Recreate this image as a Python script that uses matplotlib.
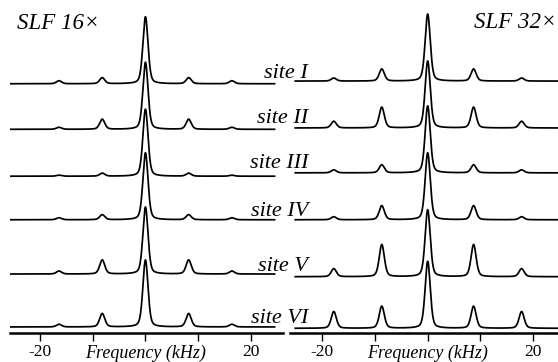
import numpy as np
import matplotlib
matplotlib.use("Agg")
import matplotlib.pyplot as plt

plt.rcParams["font.family"] = ["Liberation Serif", "DejaVu Serif"]

# ==============================================================================
# Data
# ==============================================================================
sites = ["site I", "site II", "site III", "site IV", "site V", "site VI"]

# trace baselines, in units of the centre-peak height (top trace first)
base_16 = [3.72, 3.04, 2.34, 1.69, 0.88, 0.09]
base_32 = [3.76, 3.06, 2.39, 1.69, 0.84, 0.07]

# sideband positions (kHz)
sb_16 = [8.2, 16.4]
sb_32 = [8.7, 17.8]

# sideband heights relative to the centre peak (first, second order)
h1_16 = [0.09, 0.15, 0.045, 0.075, 0.21, 0.20]
h2_16 = [0.045, 0.03, 0.015, 0.03, 0.045, 0.04]
h1_32 = [0.18, 0.31, 0.12, 0.21, 0.48, 0.33]
h2_32 = [0.045, 0.10, 0.045, 0.045, 0.12, 0.25]

# frequency span of the traces (kHz)
span_16 = [-25.7, 24.5]
span_32 = [-25.1, 24.7]

fwhm = 1.15
eta = 0.35


def line(x, x0, h):
    # pseudo-Voigt line shape
    s = fwhm / 2.3548
    g = np.exp(-0.5 * ((x - x0) / s) ** 2)
    l = (fwhm / 2) ** 2 / ((x - x0) ** 2 + (fwhm / 2) ** 2)
    return h * ((1 - eta) * g + eta * l)


def spectrum(x, sb, h1, h2):
    y = line(x, 0.0, 1.0)
    for sgn in (-1, 1):
        y += line(x, sgn * sb[0], h1)
        y += line(x, sgn * sb[1], h2)
    return y


W, H = 558, 362
fig = plt.figure(figsize=(W / 100, H / 100), dpi=100)

ax1 = fig.add_axes([10 / W, 29 / H, 273 / W, 333 / H])
ax2 = fig.add_axes([290 / W, 29 / H, 268 / W, 333 / H])

panels = [
    (ax1, base_16, sb_16, h1_16, h2_16, span_16, (-25.7, 26.1)),
    (ax2, base_32, sb_32, h1_32, h2_32, span_32, (-26.1, 24.7)),
]

for ax, base, sb, h1, h2, span, xlim in panels:
    x = np.linspace(span[0], span[1], 2000)
    for b, a1, a2 in zip(base, h1, h2):
        ax.plot(x, b + spectrum(x, sb, a1, a2), color="black", lw=1.25)
    ax.set_xlim(*xlim)
    ax.set_ylim(0, 333 / 67)
    for s in ["top", "left", "right"]:
        ax.spines[s].set_visible(False)
    ax.spines["bottom"].set_linewidth(1.8)
    ax.set_yticks([])
    ax.set_xticks([-20, -10, 0, 10, 20])
    ax.set_xticklabels(["-20", "", "", "", "20"])
    ax.tick_params(axis="x", direction="out", length=6, width=1.0, labelsize=12.5, pad=2)
    ax.text(0, -0.075, "Frequency (kHz)", transform=ax.get_xaxis_transform(),
            ha="center", va="baseline", style="italic", fontsize=13)
    ax.patch.set_visible(False)

# site labels between the panels
label_y = [78, 123, 168, 216, 271, 323]
for name, ly in zip(sites, label_y):
    fig.text(308 / W, 1 - ly / H, name, ha="right", va="baseline",
             style="italic", fontsize=16)

fig.text(17 / W, 1 - 29 / H, "SLF 16\u00d7", ha="left", va="baseline",
         style="italic", fontsize=16.5)
fig.text(556 / W, 1 - 28 / H, "SLF 32\u00d7", ha="right", va="baseline",
         style="italic", fontsize=16.5)

fig.savefig("out.png", dpi=100)
